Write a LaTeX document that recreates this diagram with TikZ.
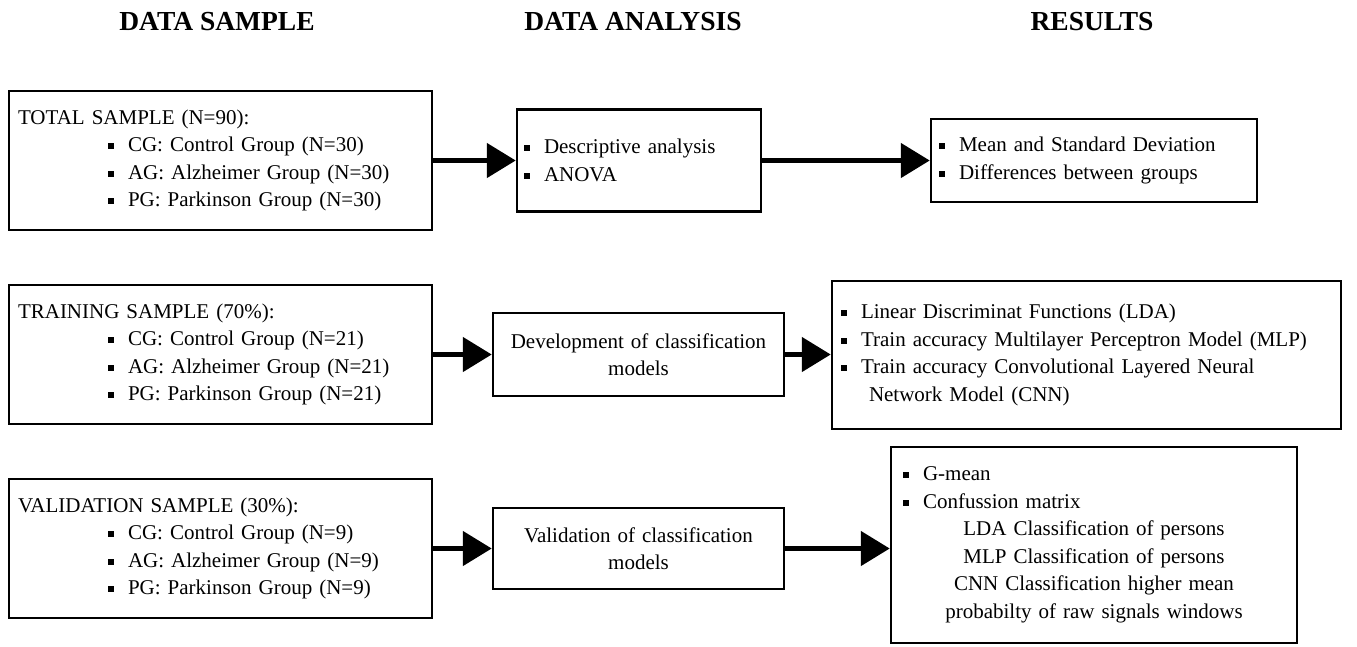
\documentclass[tikz,border=0pt]{standalone}
\usepackage{fontspec}
\setmainfont{Liberation Serif}
\usetikzlibrary{arrows.meta}
\newcommand\sqb{\rule[2.5pt]{6pt}{6pt}}
\newcommand\itm{\sqb\hspace{14pt}}
\newcommand\ind{\hspace*{90pt}}
\begin{document}
\begin{tikzpicture}[x=1pt,y=-1pt,
 box/.style={draw, line width=2.5pt, rectangle, inner ysep=0pt, font=\fontsize{21}{27.5}\selectfont, align=left},
 cbox/.style={box, align=center},
 head/.style={font=\fontsize{27.5}{30}\selectfont\bfseries, anchor=base},
 conn/.style={line width=5pt, -{Triangle[length=29pt,width=34pt]}}]
\useasboundingbox[fill=white] (0,0) rectangle (1357,646);
\node[head] (h1) at (217,30) {DATA SAMPLE};
\node[head] (h2) at (633,30) {DATA ANALYSIS};
\node[head] (h3) at (1092,30) {RESULTS};

\node[box, inner xsep=9pt, text width=405pt, minimum height=139pt] (b1) at (220.5,160.5)
 {TOTAL SAMPLE (N=90):\\
  \ind\itm CG: Control Group (N=30)\\
  \ind\itm AG: Alzheimer Group (N=30)\\
  \ind\itm PG: Parkinson Group (N=30)};
\node[box, inner xsep=7pt, text width=230pt, minimum height=102pt] (b2) at (639,160.5)
 {\itm Descriptive analysis\\
  \itm ANOVA};
\node[box, inner xsep=8pt, text width=310pt, minimum height=83pt] (b3) at (1094,160.5)
 {\itm Mean and Standard Deviation\\
  \itm Differences between groups};

\node[box, inner xsep=9pt, text width=405pt, minimum height=139pt] (b4) at (220.5,354.5)
 {TRAINING SAMPLE (70\%):\\
  \ind\itm CG: Control Group (N=21)\\
  \ind\itm AG: Alzheimer Group (N=21)\\
  \ind\itm PG: Parkinson Group (N=21)};
\node[cbox, inner xsep=4pt, text width=283pt, minimum height=83pt] (b5) at (638.5,354.5)
 {Development of classification\\ models};
\node[box, inner xsep=9pt, text width=491pt, minimum height=148pt] (b6) at (1086.5,355)
 {\itm Linear Discriminat Functions (LDA)\\
  \itm Train accuracy Multilayer Perceptron Model (MLP)\\
  \itm Train accuracy Convolutional Layered Neural\\
  \hspace*{28pt}Network Model (CNN)};

\node[box, inner xsep=9pt, text width=405pt, minimum height=139pt] (b7) at (220.5,548.5)
 {VALIDATION SAMPLE (30\%):\\
  \ind\itm CG: Control Group (N=9)\\
  \ind\itm AG: Alzheimer Group (N=9)\\
  \ind\itm PG: Parkinson Group (N=9)};
\node[cbox, inner xsep=4pt, text width=283pt, minimum height=81pt] (b8) at (638.5,548.5)
 {Validation of classification\\ models};
\node[box, inner xsep=12pt, text width=382pt, minimum height=196pt] (b9) at (1094,545)
 {\itm G-mean\\
  \itm Confussion matrix\\
  \makebox[\linewidth][c]{LDA Classification of persons}\\
  \makebox[\linewidth][c]{MLP Classification of persons}\\
  \makebox[\linewidth][c]{CNN Classification higher mean}\\
  \makebox[\linewidth][c]{probabilty of raw signals windows}};

\draw[conn] (b1.east) -- (b1.east -| b2.west);
\draw[conn] (b2.east) -- (b2.east -| b3.west);
\draw[conn] (b4.east) -- (b4.east -| b5.west);
\draw[conn] (b5.east) -- (b5.east -| b6.west);
\draw[conn] (b7.east) -- (b7.east -| b8.west);
\draw[conn] (b8.east) -- (b8.east -| b9.west);
\end{tikzpicture}
\end{document}
